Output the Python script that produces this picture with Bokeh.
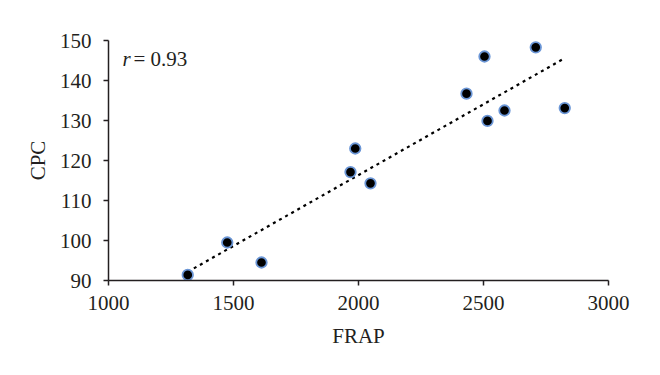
import numpy as np
from bokeh.plotting import figure
from bokeh.models import Range1d, Label, FixedTicker
from bokeh.embed import file_html
from bokeh.resources import INLINE

# Data
frap = [1317, 1475, 1612, 1968, 1987, 2048, 2432, 2504, 2516, 2584, 2709, 2825]
cpc = [91.4, 99.5, 94.5, 117.1, 123.0, 114.3, 136.7, 146.0, 129.9, 132.5, 148.3, 133.1]
x_ticks = [1000, 1500, 2000, 2500, 3000]
y_ticks = [90, 100, 110, 120, 130, 140, 150]
r_text = "0.93"

FONT = "Liberation Serif"
INK = "#231f20"

p = figure(width=644, height=359, output_backend="svg", toolbar_location=None,
           x_range=Range1d(1000, 3000), y_range=Range1d(90, 150),
           min_border_left=108, min_border_right=36, min_border_top=40, min_border_bottom=79)
p.outline_line_color = None
p.xgrid.visible = False
p.ygrid.visible = False
p.background_fill_color = "white"
p.border_fill_color = "white"

for ax, ticks in ((p.xaxis[0], x_ticks), (p.yaxis[0], y_ticks)):
    ax.ticker = FixedTicker(ticks=ticks)
    ax.axis_line_color = INK
    ax.axis_line_width = 1.5
    ax.major_tick_line_color = INK
    ax.major_tick_line_width = 1.5
    ax.major_tick_in = 0
    ax.major_tick_out = 5
    ax.minor_tick_line_color = None
    ax.major_label_text_font = FONT
    ax.major_label_text_font_size = "21px"
    ax.major_label_text_color = INK
    ax.axis_label_text_font = FONT
    ax.axis_label_text_font_size = "21px"
    ax.axis_label_text_font_style = "normal"
    ax.axis_label_text_color = INK

p.xaxis.axis_label = "FRAP"
p.yaxis.axis_label = "CPC"
p.xaxis.major_label_standoff = 10
p.yaxis.major_label_standoff = 12
p.xaxis.axis_label_standoff = 11
p.yaxis.axis_label_standoff = 7

# Linear trend line (least squares)
slope, intercept = np.polyfit(frap, cpc, 1)
xl = [min(frap), max(frap)]
yl = [slope * v + intercept for v in xl]
p.line(xl, yl, line_color="black", line_width=2.2, line_dash="3 4")

p.scatter(frap, cpc, size=10.5, marker="circle", fill_color="black",
          line_color="#6b96d6", line_width=1.8)

p.add_layout(Label(x=1056, y=145.5, text="r", text_font=FONT, text_font_size="21px",
                   text_font_style="italic", text_color=INK, text_baseline="alphabetic"))
p.add_layout(Label(x=1100, y=145.5, text="= " + r_text, text_font=FONT, text_font_size="21px",
                   text_color=INK, text_baseline="alphabetic"))

open("out.html", "w").write(file_html(p, INLINE))
